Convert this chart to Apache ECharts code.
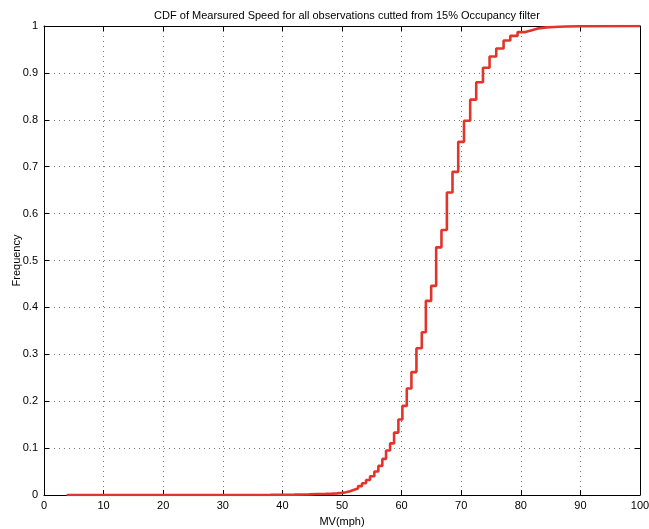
<!DOCTYPE html>
<html>
<head>
<meta charset="utf-8">
<script src="https://cdn.jsdelivr.net/npm/echarts@6/dist/echarts.min.js"></script>
<style>
  html, body { margin: 0; padding: 0; background: #fff; }
  #chart { width: 649px; height: 529px; }
</style>
</head>
<body>
<div id="chart"></div>
<script>
// Empirical CDF of measured speed: each entry is the speed (mph) where the
// cumulative frequency steps up to the matching value.
const speeds = [
  3.8, 30, 38, 42, 44.5, 46, 47.3, 48.4, 49.2,
  50.0, 50.67, 51.34, 52.02, 52.69, 53.36, 54.03, 54.71, 55.43, 56.10, 56.77, 57.39,
  58.07, 58.74, 59.46, 60.13, 60.87, 61.65, 62.49, 63.39, 64.07, 64.96, 65.80, 66.69,
  67.60, 68.54, 69.50, 70.47, 71.51, 72.52, 73.65, 74.76, 75.88, 77.11, 78.24, 79.46,
  80.76, 81.88, 83.0, 84.3, 85.6, 87.5, 90, 100
];
const frequency = [
  0, 0.0003, 0.0008, 0.0013, 0.002, 0.0025, 0.003, 0.0035, 0.0045,
  0.006, 0.008, 0.011, 0.014, 0.019, 0.025, 0.032, 0.040, 0.050, 0.062, 0.077, 0.095,
  0.110, 0.133, 0.161, 0.190, 0.227, 0.262, 0.313, 0.347, 0.414, 0.446, 0.528, 0.565,
  0.645, 0.689, 0.753, 0.798, 0.843, 0.880, 0.911, 0.935, 0.952, 0.969, 0.979, 0.987,
  0.991, 0.995, 0.997, 0.998, 0.999, 0.9995, 1.0, 1.0
];
const xTicks = { min: 0, max: 100, interval: 10 };
const yTicks = { min: 0, max: 1, interval: 0.1 };

const chart = echarts.init(document.getElementById('chart'), null, { renderer: 'canvas' });

const FONT = 'Liberation Sans, Arial, Helvetica, sans-serif';
const gridDots = { show: true, lineStyle: { color: '#777', width: 1, type: [1, 4] } };
const frame = { show: true, onZero: false, lineStyle: { color: '#000', width: 1 } };
const tickIn = { show: true, inside: true, length: 5, lineStyle: { color: '#000', width: 1 } };
const label = { color: '#000', fontSize: 11, fontFamily: FONT };

chart.setOption({
  animation: false,
  backgroundColor: '#fff',
  title: {
    text: 'CDF of Mearsured Speed for all observations cutted from 15% Occupancy filter',
    left: 342, top: 5, textAlign: 'center',
    textStyle: { color: '#000', fontSize: 11, fontWeight: 'normal', fontFamily: FONT }
  },
  grid: { left: 44, right: 9, top: 26, bottom: 34, containLabel: false, outerBoundsMode: 'none' },
  xAxis: [
    {
      type: 'value', min: xTicks.min, max: xTicks.max, interval: xTicks.interval,
      name: 'MV(mph)', nameLocation: 'middle', nameGap: 21, nameMoveOverlap: false,
      nameTextStyle: { color: '#000', fontSize: 11, fontFamily: FONT },
      axisLine: frame, axisTick: tickIn, splitLine: gridDots,
      axisLabel: Object.assign({ margin: 5 }, label)
    },
    {
      type: 'value', position: 'top', min: xTicks.min, max: xTicks.max, interval: xTicks.interval,
      axisLine: frame, axisTick: tickIn, splitLine: { show: false }, axisLabel: { show: false }
    }
  ],
  yAxis: [
    {
      type: 'value', min: yTicks.min, max: yTicks.max, interval: yTicks.interval,
      name: 'Frequency', nameLocation: 'middle', nameGap: 22, nameRotate: 90, nameMoveOverlap: false,
      nameTextStyle: { color: '#000', fontSize: 11, fontFamily: FONT },
      axisLine: frame, axisTick: tickIn, splitLine: gridDots,
      axisLabel: Object.assign({ margin: 6, formatter: v => String(+v.toFixed(1)) }, label)
    },
    {
      type: 'value', position: 'right', min: yTicks.min, max: yTicks.max, interval: yTicks.interval,
      axisLine: frame, axisTick: tickIn, splitLine: { show: false }, axisLabel: { show: false }
    }
  ],
  series: [{
    type: 'line',
    step: 'end',
    showSymbol: false,
    data: speeds.map((s, i) => [s, frequency[i]]),
    lineStyle: { color: '#e3342b', width: 2.6 },
    z: 5
  }]
});
</script>
</body>
</html>
